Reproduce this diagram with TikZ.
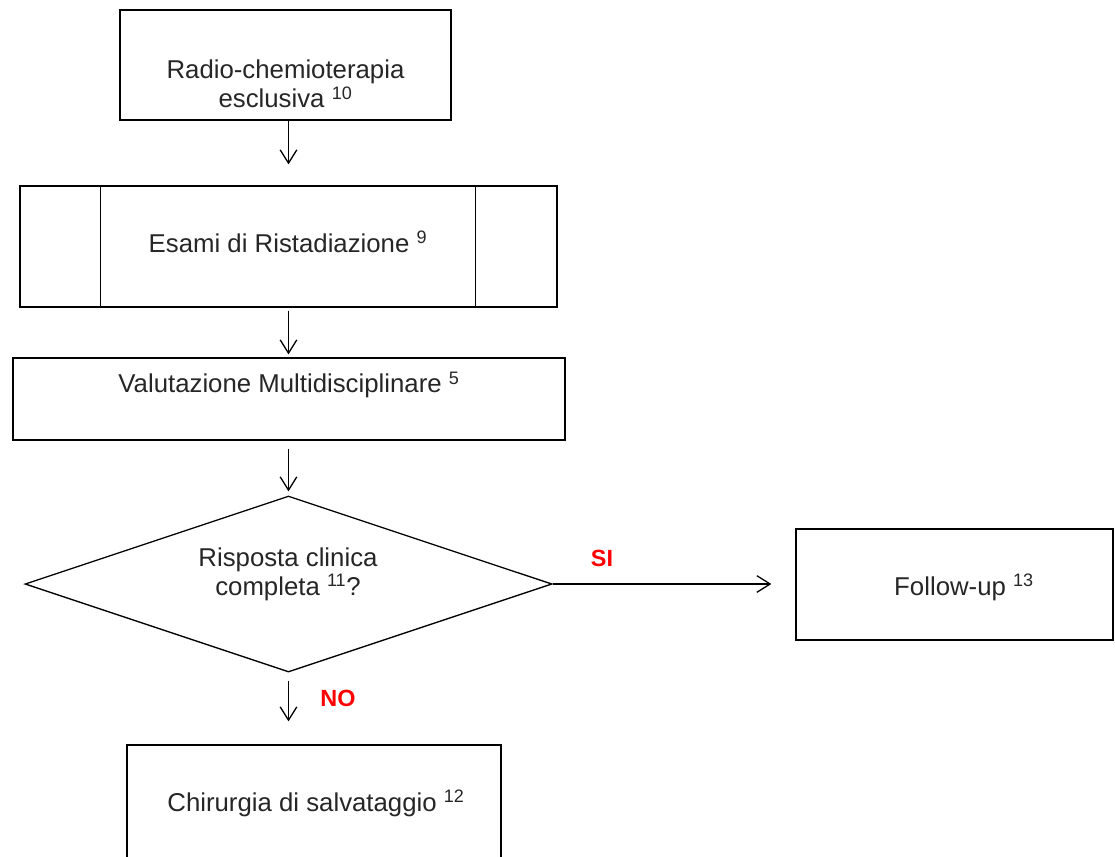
\documentclass[tikz,border=0pt]{standalone}
\usepackage{fontspec}
\setmainfont{Liberation Sans}
\usetikzlibrary{shapes.geometric,arrows.meta}

\tikzset{
  box/.style={draw, line width=1.1pt, rectangle, inner sep=0pt},
  txt/.style={align=center, font=\fontsize{22}{25}\selectfont, text=black!85},
  arr/.style={-{Straight Barb[length=0.4cm,width=0.5cm]}, line width=1.1pt},
  answer/.style={font=\fontsize{20}{24}\selectfont\bfseries, text=red}
}

\begin{document}
\begin{tikzpicture}[x=0.03cm,y=-0.03cm]

\clip (0,0) rectangle (1115,856);

\node[box, minimum width=9.93cm, minimum height=3.3cm] (radio) at (285.5,65) {};
\node[txt] (radiotxt) at (285.5,84) {Radio-chemioterapia\\esclusiva \textsuperscript{10}};

\node[box, minimum width=16.11cm, minimum height=3.63cm] (esami) at (288.5,246.5) {};
\draw[line width=1.1pt] ([xshift=2.43cm]esami.north west) -- ([xshift=2.43cm]esami.south west);
\draw[line width=1.1pt] ([xshift=-2.46cm]esami.north east) -- ([xshift=-2.46cm]esami.south east);
\node[txt] (esamitxt) at (288,242) {Esami di Ristadiazione \textsuperscript{9}};

\node[box, minimum width=16.56cm, minimum height=2.46cm] (valut) at (289,399) {};
\node[txt] (valuttxt) at (289,385) {Valutazione Multidisciplinare \textsuperscript{5}};

\node[box, shape=diamond, minimum width=15.81cm, minimum height=5.28cm] (risposta) at (288.5,584) {};
\node[txt] (rispostatxt) at (288,574) {Risposta clinica\\completa \textsuperscript{11}?};

\node[box, minimum width=9.51cm, minimum height=3.33cm] (followup) at (954.5,584.5) {};
\node[txt] (followuptxt) at (964,587) {Follow-up \textsuperscript{13}};

\node[box, minimum width=11.22cm, minimum height=3.75cm] (chir) at (314,807.5) {};
\node[txt] (chirtxt) at (316,803) {Chirurgia di salvataggio \textsuperscript{12}};

\draw[arr, shorten >=0.63cm] (esami.north |- radio.south) -- (esami.north);
\draw[arr, shorten <=0.09cm, shorten >=0.09cm] (esami.south) -- (esami.south |- valut.north);
\draw[arr, shorten <=0.24cm, shorten >=0.12cm] (valut.south -| risposta.north) -- (risposta.north);
\draw[arr, shorten >=0.72cm] (risposta.east) -- (followup.west |- risposta.east);
\draw[arr, shorten <=0.24cm, shorten >=0.69cm] (risposta.south) -- (risposta.south |- chir.north);

\node[answer] (si) at (602,558) {SI};
\node[answer] (no) at (338,698) {NO};

\end{tikzpicture}
\end{document}
